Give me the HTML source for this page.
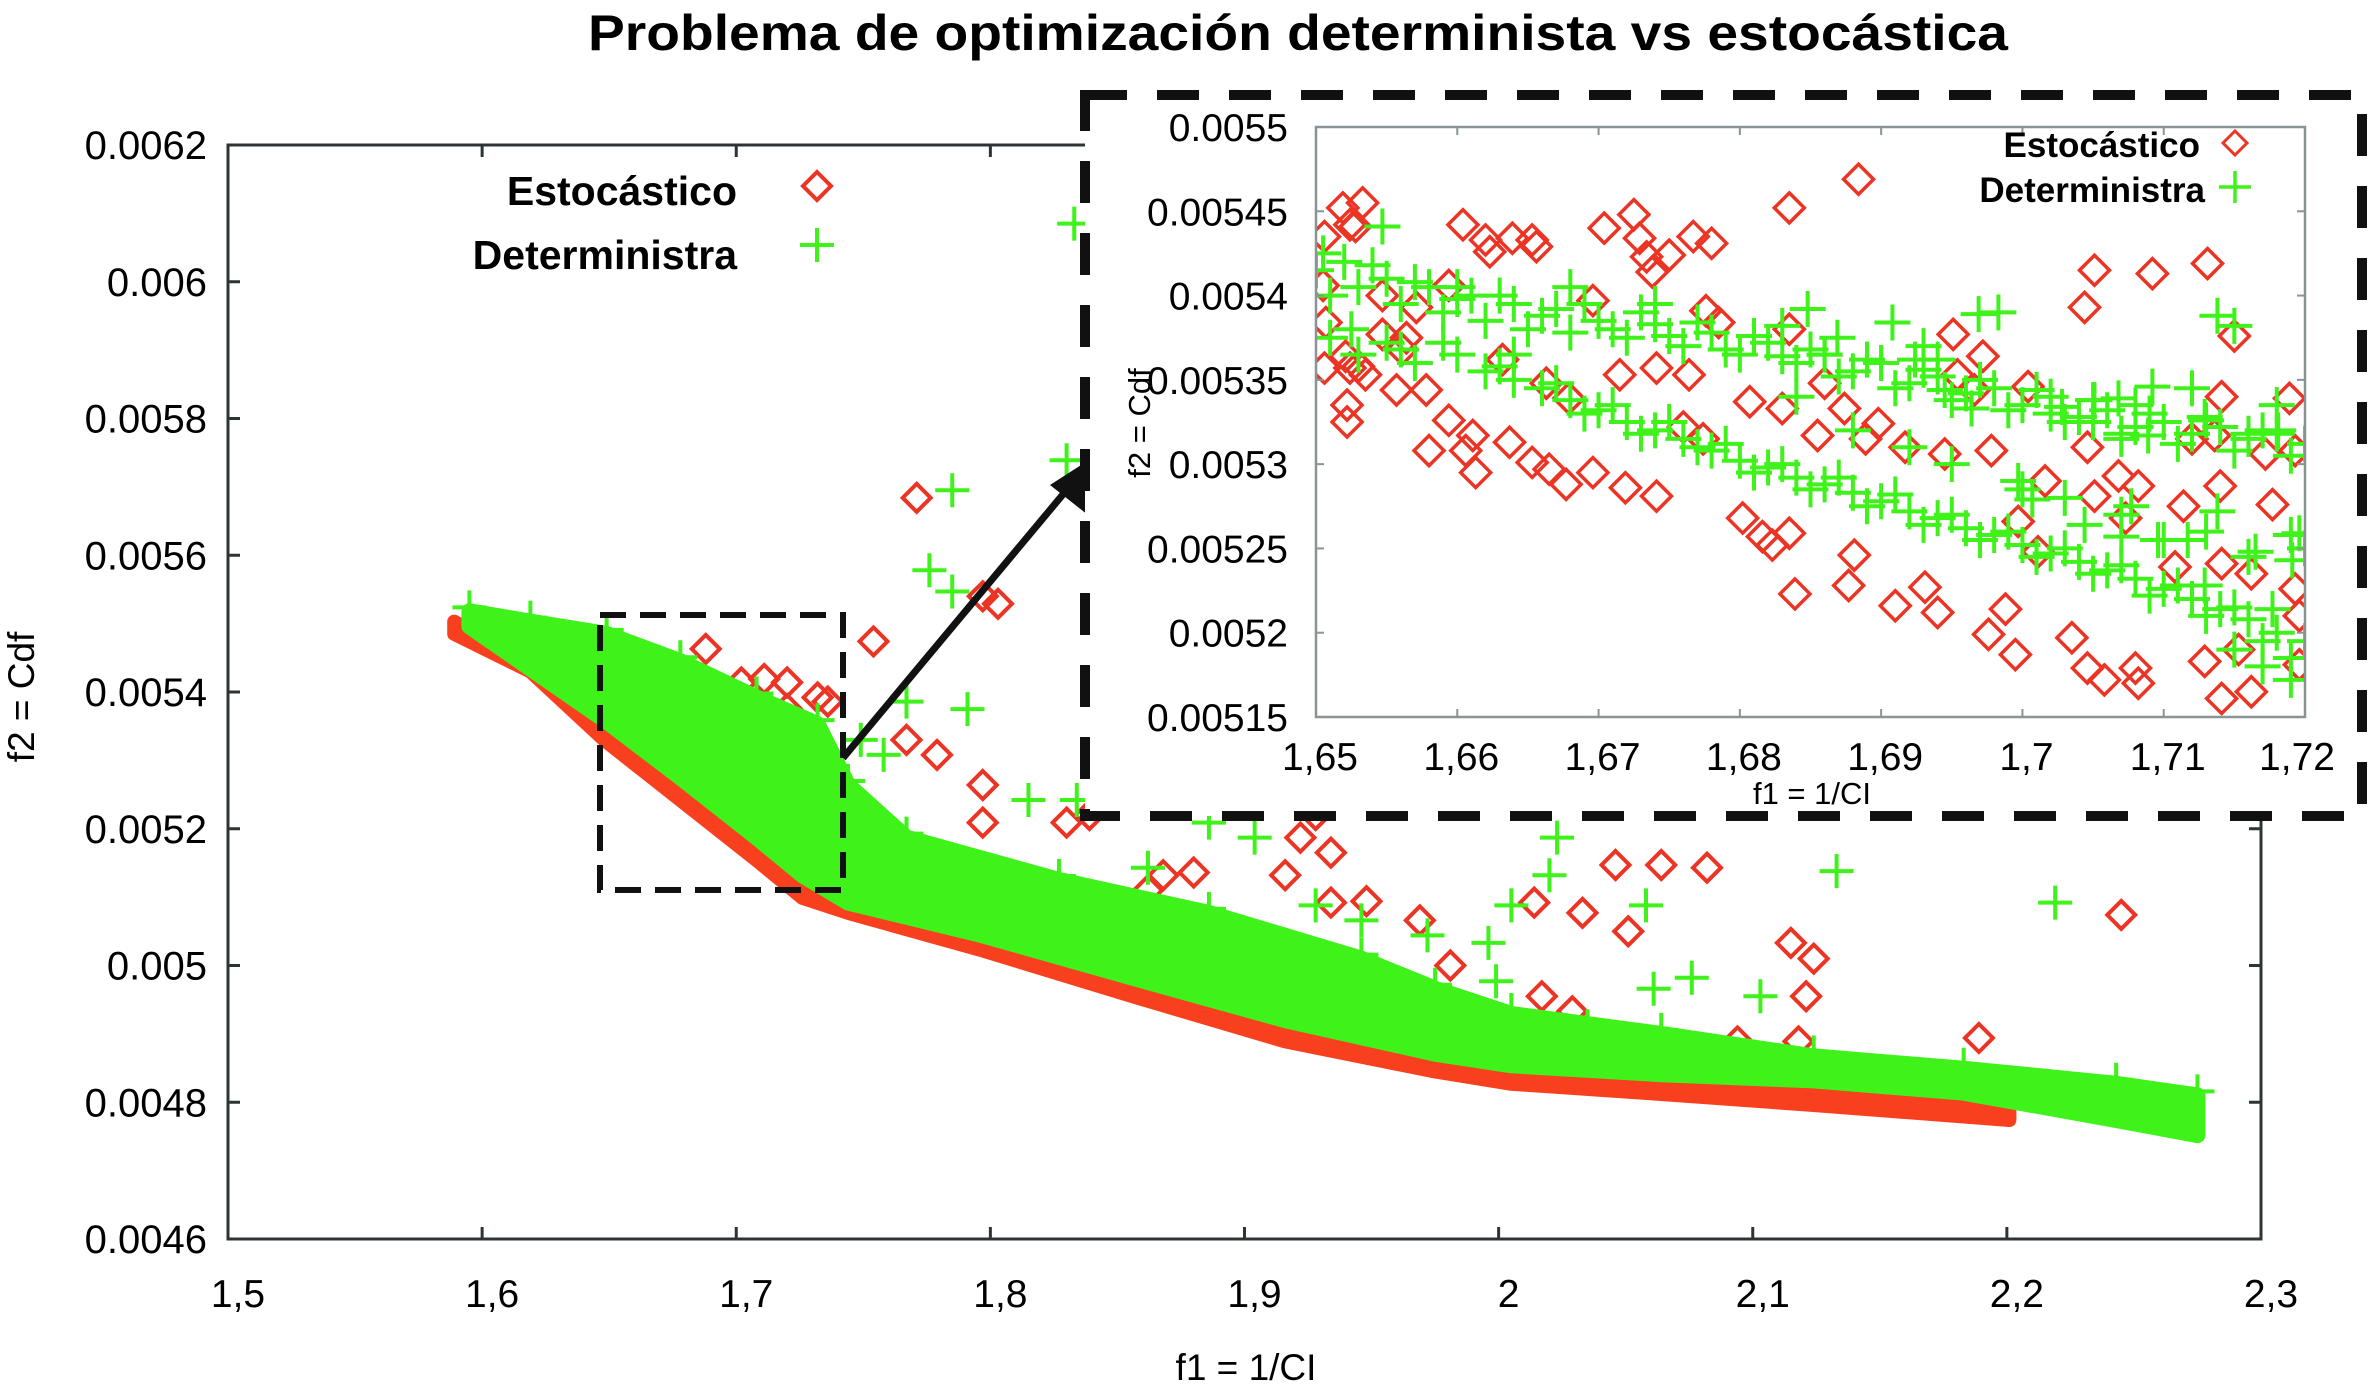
<!DOCTYPE html>
<html><head><meta charset="utf-8"><style>
html,body{margin:0;padding:0;background:#fff}
svg{display:block;font-family:"Liberation Sans",Arial,sans-serif}
</style></head><body>
<svg id="chart" width="2368" height="1389" viewBox="0 0 2368 1389" xmlns="http://www.w3.org/2000/svg">
<defs>
<clipPath id="mainClip"><rect x="228" y="145" width="2033" height="1094"/></clipPath>
<clipPath id="insetClip"><rect x="1316" y="127" width="989" height="590"/></clipPath>
</defs>
<text x="1298" y="50" text-anchor="middle" font-size="50" font-weight="bold" textLength="1420" lengthAdjust="spacingAndGlyphs">Problema de optimización determinista vs estocástica</text>
<g id="mainPlot"></g>
<text x="1246" y="1380" text-anchor="middle" font-size="37">f1 = 1/CI</text>
<text transform="translate(34,697) rotate(-90)" text-anchor="middle" font-size="37">f2 = Cdf</text>
<g id="legend">
<text x="737" y="205" text-anchor="end" font-size="41" font-weight="bold">Estocástico</text>
<path d="M817,172 L831,186 L817,200 L803,186 Z" fill="none" stroke="#ec3424" stroke-width="4"/>
<text x="737" y="269" text-anchor="end" font-size="41" font-weight="bold">Deterministra</text>
<path d="M800,245 H834 M817,228 V262" stroke="#3ef21a" stroke-width="4"/>
</g>
<rect x="600" y="615" width="243" height="275" fill="none" stroke="#111" stroke-width="6" stroke-dasharray="26,14"/>
<g>
<line x1="843" y1="758" x2="1075" y2="480" stroke="#111" stroke-width="7"/>
<path d="M1092,458 L1088,515 L1050,485 Z" fill="#111"/>
</g>
<rect x="1085" y="95" width="1277" height="721" fill="#fff" stroke="#111" stroke-width="10" stroke-dasharray="42,30"/>
<g id="insetPlot"></g>
<text x="1812" y="804" text-anchor="middle" font-size="31">f1 = 1/CI</text>
<text transform="translate(1150,423) rotate(-90)" text-anchor="middle" font-size="31">f2 = Cdf</text>
<g>
<text x="2200" y="157" text-anchor="end" font-size="35" font-weight="bold">Estocástico</text>
<path d="M2235,131 L2247,143 L2235,155 L2223,143 Z" fill="none" stroke="#ec3424" stroke-width="3"/>
<text x="2205" y="202" text-anchor="end" font-size="35" font-weight="bold">Deterministra</text>
<path d="M2219,187 H2251 M2235,171 V203" stroke="#3ef21a" stroke-width="3.5"/>
</g>
</svg>
<script>
// ---------- MAIN CHART DATA ----------
const mainXTicks = [1.5,1.6,1.7,1.8,1.9,2.0,2.1,2.2,2.3];
const mainXTickLabels = ["1,5","1,6","1,7","1,8","1,9","2","2,1","2,2","2,3"];
const mainYTicks = [0.0046,0.0048,0.005,0.0052,0.0054,0.0056,0.0058,0.006,0.0062];
const mainYTickLabels = ["0.0046","0.0048","0.005","0.0052","0.0054","0.0056","0.0058","0.006","0.0062"];

const stoUpperX = [1.589,1.649,1.708,1.744,1.827,1.916,2.005,2.124,2.201];
const stoUpperY = [0.005503,0.005375,0.005194,0.005099,0.005026,0.004929,0.00486,0.004841,0.004818];
const stoLowerX = [1.589,1.619,1.648,1.678,1.708,1.726,1.744,1.797,1.856,1.916,1.975,2.005,2.064,2.124,2.201];
const stoLowerY = [0.005485,0.00543,0.00533,0.005242,0.005154,0.005099,0.005077,0.005022,0.004955,0.004889,0.004845,0.004827,0.004812,0.004796,0.004774];
const detUpperX = [1.595,1.619,1.649,1.678,1.708,1.732,1.744,1.767,1.827,1.886,1.946,1.975,2.005,2.064,2.124,2.183,2.243,2.275];
const detUpperY = [0.005518,0.005503,0.005485,0.005445,0.005392,0.005353,0.005264,0.005187,0.005125,0.005077,0.00501,0.004966,0.004929,0.0049,0.004867,0.004849,0.004827,0.00481];
const detLowerX = [1.595,1.649,1.678,1.708,1.726,1.744,1.797,1.856,1.916,1.975,2.005,2.064,2.124,2.183,2.243,2.275];
const detLowerY = [0.005496,0.005357,0.005275,0.005187,0.005132,0.005092,0.005044,0.004982,0.00492,0.004871,0.004854,0.004841,0.004832,0.004814,0.004774,0.004752];

const stoX = [1.771,1.797,1.803,1.754,1.688,1.702,1.711,1.720,1.732,1.736,1.720,1.767,1.779,1.797,1.830,1.797,1.928,1.934,1.916,1.868,1.880,1.862,1.934,1.948,2.014,2.033,2.046,2.064,2.082,2.115,2.124,2.121,2.029,2.189,2.245,2.051,2.017,1.981,1.969,1.839,1.922,2.094,2.118];
const stoY = [0.005684,0.00554,0.005529,0.005474,0.005463,0.005414,0.005419,0.005414,0.005392,0.005386,0.005375,0.00533,0.005308,0.005264,0.005209,0.005209,0.00522,0.005165,0.005132,0.005132,0.005136,0.00511,0.005092,0.005094,0.005092,0.005077,0.005147,0.005147,0.005143,0.005033,0.00501,0.004955,0.004933,0.004894,0.005074,0.00505,0.004955,0.005,0.005066,0.00522,0.005187,0.004889,0.004889];
const detX = [1.833,1.785,1.830,1.776,1.785,1.791,1.767,1.749,1.758,1.834,1.815,1.886,1.904,2.023,2.005,2.020,2.058,2.133,2.219,2.061,2.076,2.103,1.999,1.996,1.972,1.946,1.928,1.862,2.052,2.035];
const detY = [0.006085,0.005695,0.005739,0.005578,0.005547,0.005375,0.005386,0.00533,0.005308,0.005242,0.005242,0.005209,0.005187,0.005187,0.005088,0.005132,0.005088,0.005138,0.005092,0.004966,0.004982,0.004955,0.004977,0.005033,0.005044,0.005066,0.005088,0.005143,0.004889,0.004911];

// ---------- INSET DATA ----------
const insetXTicks = [1.65,1.66,1.67,1.68,1.69,1.70,1.71,1.72];
const insetXTickLabels = ["1,65","1,66","1,67","1,68","1,69","1,7","1,71","1,72"];
const insetYTicks = [0.00515,0.0052,0.00525,0.0053,0.00535,0.0054,0.00545,0.0055];
const insetYTickLabels = ["0.00515","0.0052","0.00525","0.0053","0.00535","0.0054","0.00545","0.0055"];

const inDetX = [1.650,1.651,1.652,1.653,1.655,1.656,1.658,1.659,1.661,1.662,1.664,1.665,1.667,1.668,1.670,1.672,1.674,1.676,1.678,1.680,1.682,1.684,1.686,1.688,1.690,1.692,1.694,1.696,1.698,1.700,1.702,1.704,1.706,1.708,1.710,1.712,1.714,1.716,1.718,1.720,
1.651,1.653,1.655,1.657,1.660,1.662,1.664,1.666,1.668,1.670,1.672,1.674,1.676,1.678,1.680,1.682,1.684,1.686,1.688,1.690,1.692,1.694,1.696,1.698,1.700,1.702,1.704,1.706,1.708,1.710,1.712,1.714,1.716,1.718,1.720,1.717,1.719,1.715,
1.6547,1.660,1.683,1.686,1.690,1.693,1.6969,1.702,1.705,1.708,1.712,1.715,1.718,1.719,1.700,1.703,1.707,1.710,1.713,1.716,1.720,1.692,1.695,1.688,1.684,1.664,1.668,1.674,
1.6848,1.6908,1.6983,1.7138,1.7092,1.7068,1.7028,1.7051,1.7089,1.7070,1.7160,1.7181,1.7129,1.6997,1.7007,1.7077,1.7138,1.7117,1.7096,1.7070,1.7044,1.7165,1.7196,1.7191,1.7129,1.7177,1.6869,1.6940,1.6924,1.6945,1.6964,
1.6505,1.654,1.657,1.660,1.663,1.666,1.669,1.671,1.673,1.675,1.677,1.679,1.681,1.683,1.685,1.687,1.689,1.691,1.693,1.695,1.697,1.699,1.701,1.703,1.705,1.707,1.709,1.711,1.713,1.715,1.717,1.719,
1.6525,1.656,1.659,1.663,1.667,1.669,1.671,1.673,1.675,1.677,1.679,1.681,1.683,1.685,1.687,1.689,1.691,1.693,1.695,1.697,1.699,1.701,1.703,1.705,1.707,1.709,1.711,1.713,1.715,1.717,1.719];
const inDetY = [0.005415,0.0054,0.00542,0.005405,0.00541,0.005395,0.005405,0.00539,0.0054,0.005385,0.005395,0.00538,0.005392,0.005378,0.005385,0.005375,0.005383,0.00537,0.005378,0.005365,0.005372,0.00536,0.005365,0.005355,0.00536,0.005348,0.005352,0.005342,0.005345,0.005335,0.00534,0.005328,0.005332,0.005322,0.005325,0.005318,0.005322,0.005315,0.005318,0.005312,
0.005375,0.005365,0.005372,0.00536,0.005365,0.005355,0.00535,0.005345,0.005338,0.005332,0.005325,0.00532,0.005315,0.005308,0.005302,0.005298,0.005292,0.005288,0.005283,0.005278,0.005272,0.005268,0.005262,0.005258,0.005252,0.005247,0.005242,0.005237,0.005232,0.005226,0.00522,0.005214,0.005208,0.0052,0.005195,0.00518,0.005172,0.00519,
0.005441,0.005405,0.005382,0.005365,0.00536,0.00537,0.005389,0.00533,0.005325,0.005335,0.005345,0.005382,0.005335,0.005258,0.005285,0.00528,0.00527,0.005255,0.00526,0.005245,0.00525,0.00531,0.0053,0.00532,0.00534,0.005365,0.005405,0.005395,
0.005392,0.005384,0.00539,0.005388,0.005346,0.005339,0.005334,0.005338,0.005317,0.005315,0.005318,0.00532,0.005328,0.00529,0.005279,0.005275,0.005272,0.005255,0.005255,0.005257,0.005264,0.005248,0.005259,0.005243,0.005228,0.005214,0.005375,0.005362,0.005362,0.005344,0.005333,
0.005425,0.005418,0.005408,0.005398,0.0054,0.005388,0.005395,0.00538,0.00539,0.005376,0.005384,0.005368,0.005376,0.005364,0.005368,0.005352,0.005362,0.005345,0.005356,0.005338,0.00535,0.005332,0.005344,0.005325,0.005338,0.005318,0.00533,0.005312,0.005326,0.005308,0.00532,0.005305,
0.00538,0.005368,0.005372,0.005358,0.005348,0.00533,0.005335,0.005318,0.005325,0.00531,0.005312,0.005295,0.0053,0.005285,0.005292,0.005275,0.005282,0.005264,0.00527,0.005255,0.00526,0.005245,0.00525,0.005235,0.00524,0.005222,0.005228,0.00521,0.005215,0.005195,0.005185];

const inStoX = [1.6519,1.6533,1.6524,1.6528,1.6604,1.6620,1.6639,1.6653,1.6656,1.6623,1.6704,1.6725,1.6729,1.6734,1.6738,1.6750,1.6767,1.6780,1.6835,1.6506,1.6505,1.6507,1.6506,1.6524,1.6535,1.6522,1.6522,1.6557,1.6578,1.6594,1.6580,1.6606,1.6613,1.6611,1.6637,1.6653,1.6665,1.6677,1.6696,1.6719,1.6741,1.6802,1.6816,1.6823,1.6839,1.6835,1.6663,1.6679,1.6715,1.6741,1.6764,1.6776,1.6785,1.6835,1.6807,1.6830,1.6696,1.6632,1.6564,1.6547,1.6594,1.6774,1.6760,1.6521,1.6530,1.6561,1.6571,1.6547,
1.6884,1.6951,1.6972,1.6954,1.6966,1.7004,1.7051,1.7092,1.7131,1.7044,1.7150,1.7141,1.7189,1.7172,1.7120,1.7136,1.7046,1.7068,1.7082,1.7051,1.7114,1.7140,1.7177,1.7193,1.7016,1.6877,1.6910,1.6940,1.6931,1.6976,1.6995,1.7046,1.7058,1.7082,1.7108,1.7141,1.7162,1.7193,1.7141,1.7162,1.7196,1.6988,1.7035,1.7080,1.6889,1.6898,1.6874,1.6917,1.6945,1.6978,1.6860,1.6855,1.6881,1.7011,1.6997,1.7073,1.7196,1.7153,1.7129];
const inStoY = [0.005452,0.005455,0.005442,0.005441,0.005442,0.005433,0.005434,0.005433,0.005429,0.005426,0.00544,0.005448,0.005434,0.005423,0.005414,0.005424,0.005435,0.005431,0.005452,0.005435,0.005406,0.005384,0.005357,0.005357,0.005353,0.005335,0.005325,0.005344,0.005344,0.005326,0.005308,0.005308,0.005295,0.005317,0.005313,0.005301,0.005297,0.005288,0.005295,0.005286,0.005281,0.005268,0.005257,0.005252,0.005223,0.005259,0.005348,0.005339,0.005353,0.005357,0.005353,0.005391,0.005384,0.00538,0.005337,0.005333,0.005397,0.005362,0.005375,0.0054,0.005406,0.005315,0.005322,0.005364,0.005358,0.005368,0.005393,0.005377,
0.005469,0.005377,0.005364,0.005353,0.005344,0.005346,0.005415,0.005413,0.005419,0.005393,0.005376,0.00534,0.005339,0.005306,0.005315,0.005317,0.00531,0.005293,0.005287,0.005281,0.005275,0.005287,0.005276,0.005308,0.00529,0.005228,0.005216,0.005212,0.005227,0.005199,0.005187,0.005179,0.005172,0.00517,0.005239,0.005241,0.005235,0.005226,0.005161,0.005165,0.00521,0.005214,0.005197,0.005179,0.005315,0.005324,0.005333,0.00531,0.005306,0.005308,0.005348,0.005317,0.005246,0.005248,0.005266,0.005268,0.005181,0.00519,0.005183];

// ---------- RENDERING ----------
const NS = "http://www.w3.org/2000/svg";
const RED = "#ec3424", REDFILL = "#f8401e", GREEN = "#3ef21a";
function mk(tag, attrs, parent){ const e=document.createElementNS(NS,tag); for(const k in attrs) e.setAttribute(k,attrs[k]); parent.appendChild(e); return e; }

const MX0=228, MX1=2261, MY0=1239, MY1=145;
const mxs = v => MX0 + (v-1.5)/(2.3-1.5)*(MX1-MX0);
const mys = v => MY0 - (v-0.0046)/(0.0062-0.0046)*(MY0-MY1);
const main = document.getElementById('mainPlot');
const mainData = mk('g',{'clip-path':'url(#mainClip)'},main);



function bandPath(ux,uy,lx,ly,xs,ys){
  let d='M'+ux.map((x,i)=>xs(x).toFixed(1)+','+ys(uy[i]).toFixed(1)).join(' L');
  for(let i=lx.length-1;i>=0;i--) d+=' L'+xs(lx[i]).toFixed(1)+','+ys(ly[i]).toFixed(1);
  return d+' Z';
}
function diamond(g,cx,cy,r,sw,name){
  const p=mk('path',{d:`M${cx},${cy-r} L${cx+r},${cy} L${cx},${cy+r} L${cx-r},${cy} Z`,fill:'none',stroke:RED,'stroke-width':sw},g);
  
  
}
function plus(g,cx,cy,r,sw,name){
  const p=mk('path',{d:`M${cx-r},${cy} H${cx+r} M${cx},${cy-r} V${cy+r}`,stroke:GREEN,'stroke-width':sw},g);
  
  
}

const sb = mk('path',{d:bandPath(stoUpperX,stoUpperY,stoLowerX,stoLowerY,mxs,mys),fill:REDFILL,stroke:REDFILL,'stroke-width':14,'stroke-linejoin':'round'},mainData);


stoX.forEach((x,i)=>diamond(mainData,mxs(x),mys(stoY[i]),14,4,'estocastico-point'));
const gb = mk('path',{d:bandPath(detUpperX,detUpperY,detLowerX,detLowerY,mxs,mys),fill:GREEN,stroke:GREEN,'stroke-width':16,'stroke-linejoin':'round'},mainData);


detUpperX.forEach((x,i)=>plus(mainData,mxs(x),mys(detUpperY[i])-4,17,4,'deterministra-point'));
detX.forEach((x,i)=>plus(mainData,mxs(x),mys(detY[i]),17,4,'deterministra-point'));

const frame = mk('rect',{x:MX0,y:MY1,width:MX1-MX0,height:MY0-MY1,fill:'none',stroke:'#2d3436','stroke-width':3},main);


mainXTicks.forEach((t,i)=>{
  const x=mxs(t);
  mk('line',{x1:x,y1:MY0,x2:x,y2:MY0-12,stroke:'#2d3436','stroke-width':3},main);
  mk('line',{x1:x,y1:MY1,x2:x,y2:MY1+12,stroke:'#2d3436','stroke-width':3},main);
  const tx=mk('text',{x:x+10,y:1307,'text-anchor':'middle','font-size':39},main);
  tx.textContent=mainXTickLabels[i];
  
  
});
mainYTicks.forEach((t,i)=>{
  const y=mys(t);
  mk('line',{x1:MX0,y1:y,x2:MX0+12,y2:y,stroke:'#2d3436','stroke-width':3},main);
  mk('line',{x1:MX1,y1:y,x2:MX1-12,y2:y,stroke:'#2d3436','stroke-width':3},main);
  const tx=mk('text',{x:207,y:y+14,'text-anchor':'end','font-size':40},main);
  tx.textContent=mainYTickLabels[i];
  
  
});

const IX0=1316, IX1=2305, IY0=717, IY1=127;
const ixs = v => IX0 + (v-1.65)/(1.72-1.65)*(IX1-IX0);
const iys = v => IY0 - (v-0.00515)/(0.0055-0.00515)*(IY0-IY1);
const inset = document.getElementById('insetPlot');
const inData = mk('g',{'clip-path':'url(#insetClip)'},inset);


inStoX.forEach((x,i)=>diamond(inData,ixs(x),iys(inStoY[i]),15,3.5,'inset-estocastico-point'));
inDetX.forEach((x,i)=>plus(inData,ixs(x),iys(inDetY[i]),18,4,'inset-deterministra-point'));
const iframe = mk('rect',{x:IX0,y:IY1,width:IX1-IX0,height:IY0-IY1,fill:'none',stroke:'#8a9396','stroke-width':2.5},inset);


insetXTicks.forEach((t,i)=>{
  const x=ixs(t);
  mk('line',{x1:x,y1:IY0,x2:x,y2:IY0-8,stroke:'#8a9396','stroke-width':2},inset);
  mk('line',{x1:x,y1:IY1,x2:x,y2:IY1+8,stroke:'#8a9396','stroke-width':2},inset);
  const tx=mk('text',{x:x+(i===7?-8:4),y:770,'text-anchor':'middle','font-size':39},inset);
  tx.textContent=insetXTickLabels[i];
  
  
});
insetYTicks.forEach((t,i)=>{
  const y=iys(t);
  mk('line',{x1:IX0,y1:y,x2:IX0+8,y2:y,stroke:'#8a9396','stroke-width':2},inset);
  mk('line',{x1:IX1,y1:y,x2:IX1-8,y2:y,stroke:'#8a9396','stroke-width':2},inset);
  const tx=mk('text',{x:1288,y:y+14,'text-anchor':'end','font-size':39},inset);
  tx.textContent=insetYTickLabels[i];
  
  
});
</script>
</body></html>
